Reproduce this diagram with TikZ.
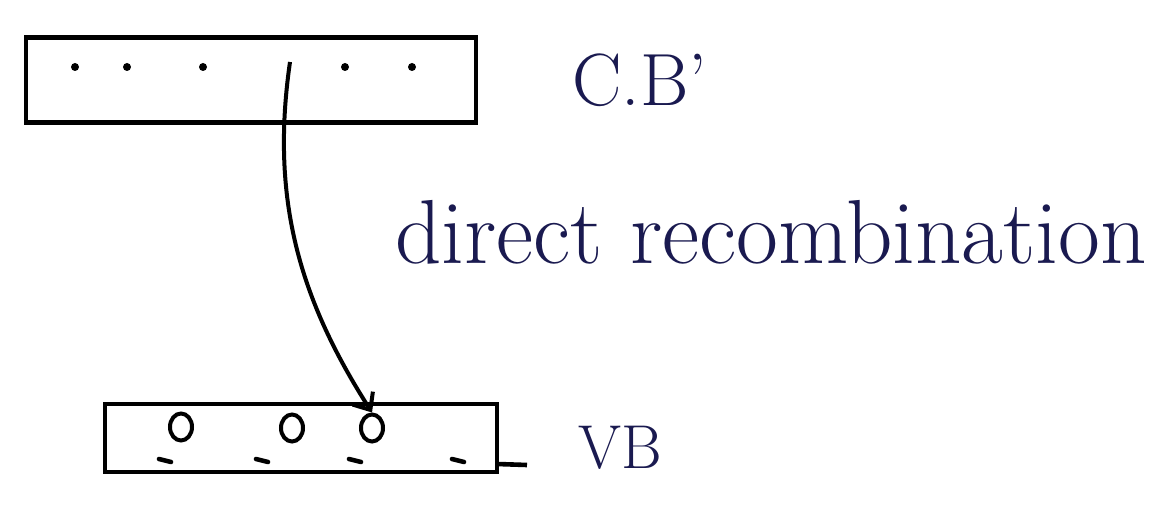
\documentclass[tikz,border=0pt]{standalone}
\usetikzlibrary{arrows.meta,shapes.geometric}
\definecolor{ink}{HTML}{1A1A50}
\begin{document}
\begin{tikzpicture}[x=1pt,y=-1pt,
  band/.style={draw=black, line width=4.6pt, minimum width=#1, inner sep=0pt},
  dot/.style={fill=black, circle, inner sep=0pt, minimum size=8pt},
  tickmark/.style={line width=4.6pt, line cap=round},
  hole/.style={draw=black, line width=4pt, ellipse, minimum width=22pt, minimum height=27pt, inner sep=0pt},
  lbl/.style={text=ink, anchor=base west, inner sep=0pt}]
\useasboundingbox (0,0) rectangle (1159,518);
\fill[white] (0,0) rectangle (1159,518);
% conduction band
\node[band=450pt, minimum height=85pt] (cb) at (251,80) {};
\foreach \x/\n in {75/a,127/b,203/c,345/e,412/f}
  \node[dot] (cbd\n) at (\x,67) {};
\coordinate (start) at (290,62);
% valence band
\node[band=392pt, minimum height=68pt] (vb) at (301,438) {};
\coordinate (tailA) at (497,464);
\coordinate (tailB) at (527,465);
\draw[line width=4.6pt] (tailA) -- (tailB);
\node[hole] (h1) at (181,427) {};
\node[hole] (h2) at (292,428) {};
\node[hole] (h3) at (372,428) {};
\foreach \x in {165,262,355,458}
  \draw[tickmark] (\x-6,459) -- (\x+6,462);
% arrow
\draw[line width=4pt, -{Straight Barb[length=14pt,width=24pt]}]
  (start) .. controls (270,200) and (300,300) .. (h3.north);
% labels
\node[lbl, font=\fontsize{74}{74}\selectfont] (cblab) at (572,106) {C.B'};
\node[lbl, font=\fontsize{91}{91}\selectfont] (rec) at (395,264) {direct recombination};
\node[lbl, font=\fontsize{62}{62}\selectfont] (vblab) at (578,468) {VB};
\end{tikzpicture}
\end{document}
